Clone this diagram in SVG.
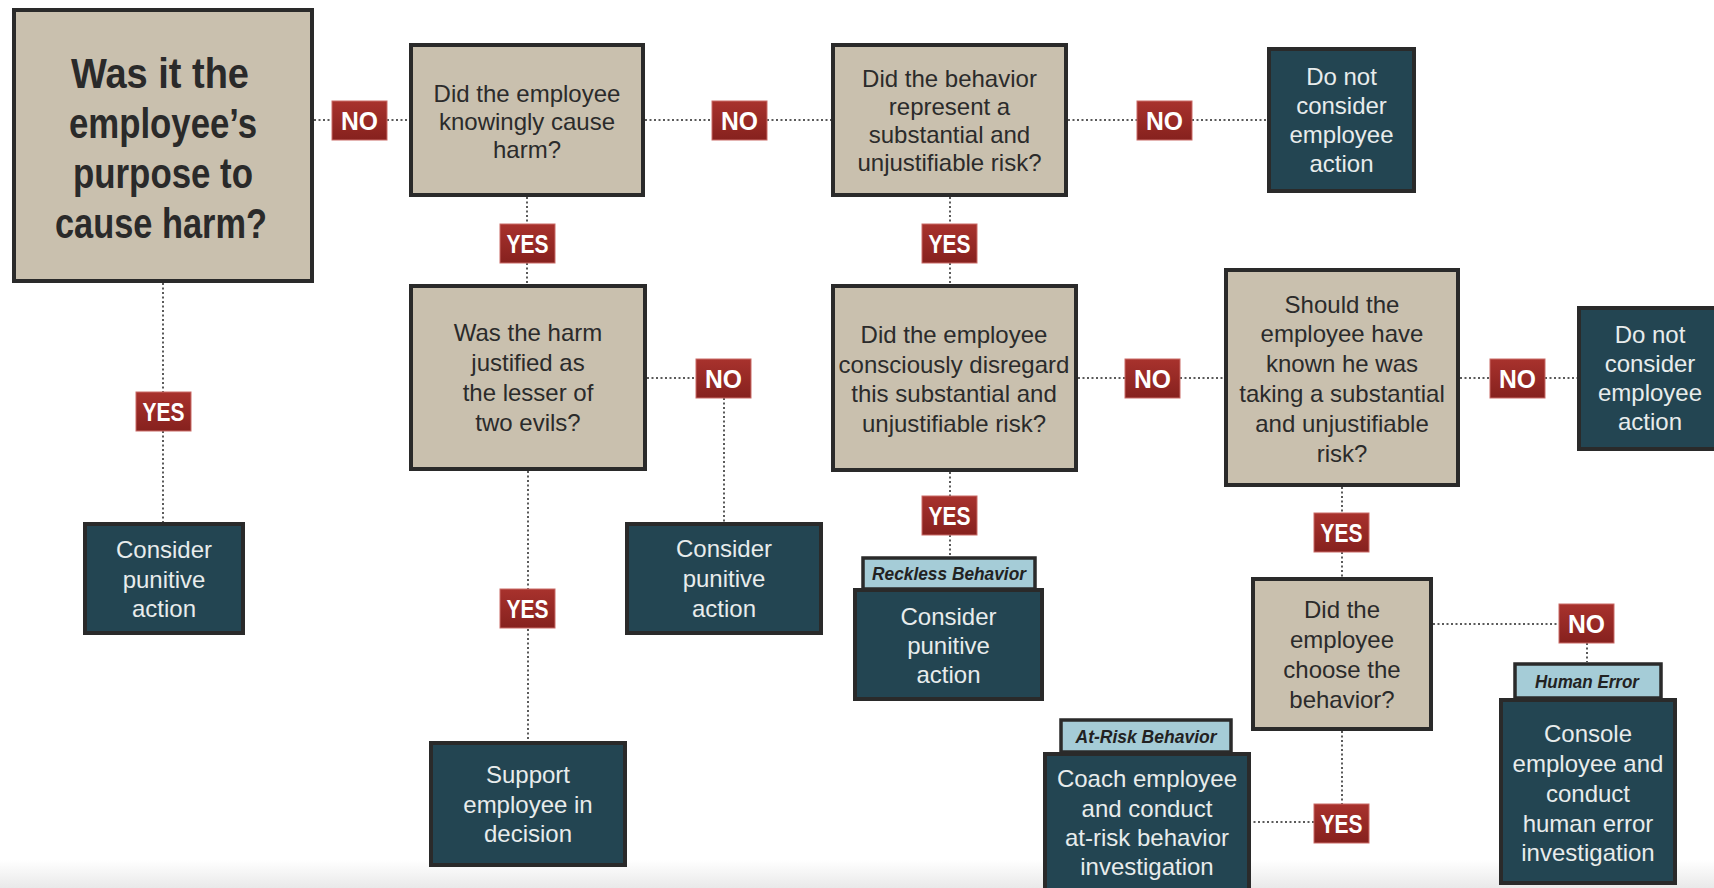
<svg xmlns="http://www.w3.org/2000/svg" width="1714" height="888" viewBox="0 0 1714 888">
<defs>
<linearGradient id="redg" x1="0" y1="0" x2="0" y2="1">
<stop offset="0" stop-color="#a8322d"/>
<stop offset="1" stop-color="#86211e"/>
</linearGradient>
<linearGradient id="floor" x1="0" y1="0" x2="0" y2="1">
<stop offset="0" stop-color="#ffffff"/>
<stop offset="1" stop-color="#e9e9e9"/>
</linearGradient>
<style>
.q{fill:#c9c0ae;stroke:#2a2a2a;stroke-width:4}
.a{fill:#234552;stroke:#2a2a2a;stroke-width:4}
.tb{fill:#a5ccd7;stroke:#2a2a2a;stroke-width:3.5}
.lb{fill:url(#redg);stroke:#c96a66;stroke-width:1}
.qt{font-family:"Liberation Sans",Arial,sans-serif;font-size:24px;fill:#2b2b2b;text-anchor:middle}
.at{font-family:"Liberation Sans",Arial,sans-serif;font-size:24px;fill:#e8ecec;text-anchor:middle}
.big{font-family:"Liberation Sans",Arial,sans-serif;font-size:43px;font-weight:bold;fill:#2a2a2a;text-anchor:middle}
.lt{font-family:"Liberation Sans",Arial,sans-serif;font-size:26px;font-weight:bold;fill:#ffffff;text-anchor:middle}
.tt{font-family:"Liberation Sans",Arial,sans-serif;font-size:19px;font-weight:bold;font-style:italic;fill:#222222;text-anchor:middle}
.c{fill:none;stroke:#5a5a5a;stroke-width:2;stroke-dasharray:2 2.5}
</style>
</defs>
<rect x="0" y="0" width="1714" height="888" fill="#ffffff"/>
<rect x="0" y="860" width="1714" height="28" fill="url(#floor)"/>

<g id="connectors">
<path class="c" d="M314 120H332M387 120H409"/>
<path class="c" d="M645 120H712M767 120H831"/>
<path class="c" d="M1068 120H1137M1192 120H1267"/>
<path class="c" d="M527 197V224M527 263V284"/>
<path class="c" d="M950 197V224M950 263V284"/>
<path class="c" d="M163 283V392M163 431V522"/>
<path class="c" d="M647 378H696M724 398V522"/>
<path class="c" d="M528 471V589M528 629V741"/>
<path class="c" d="M1078 378H1125M1180 378H1224"/>
<path class="c" d="M1460 378H1490M1545 378H1577"/>
<path class="c" d="M950 472V496M950 535V556"/>
<path class="c" d="M1342 487V513M1342 552V577"/>
<path class="c" d="M1433 624H1559M1587 643V662"/>
<path class="c" d="M1342 731V804M1314 822H1251"/>
<g id="lbl-no1"><rect class="lb" x="332" y="101" width="55" height="39"/><text class="lt" x="359.5" y="129.5" textLength="37" lengthAdjust="spacingAndGlyphs">NO</text></g>
<g id="lbl-no2"><rect class="lb" x="712" y="101" width="55" height="39"/><text class="lt" x="739.5" y="129.5" textLength="37" lengthAdjust="spacingAndGlyphs">NO</text></g>
<g id="lbl-no3"><rect class="lb" x="1137" y="101" width="55" height="39"/><text class="lt" x="1164.5" y="129.5" textLength="37" lengthAdjust="spacingAndGlyphs">NO</text></g>
<g id="lbl-yes1"><rect class="lb" x="500" y="224" width="55" height="39"/><text class="lt" x="527.5" y="252.5" textLength="42" lengthAdjust="spacingAndGlyphs">YES</text></g>
<g id="lbl-yes2"><rect class="lb" x="922" y="224" width="55" height="39"/><text class="lt" x="949.5" y="252.5" textLength="42" lengthAdjust="spacingAndGlyphs">YES</text></g>
<g id="lbl-yes0"><rect class="lb" x="136" y="392" width="55" height="39"/><text class="lt" x="163.5" y="420.5" textLength="42" lengthAdjust="spacingAndGlyphs">YES</text></g>
<g id="lbl-no4"><rect class="lb" x="696" y="359" width="55" height="39"/><text class="lt" x="723.5" y="387.5" textLength="37" lengthAdjust="spacingAndGlyphs">NO</text></g>
<g id="lbl-yes3"><rect class="lb" x="500" y="589" width="55" height="39"/><text class="lt" x="527.5" y="617.5" textLength="42" lengthAdjust="spacingAndGlyphs">YES</text></g>
<g id="lbl-no5"><rect class="lb" x="1125" y="359" width="55" height="39"/><text class="lt" x="1152.5" y="387.5" textLength="37" lengthAdjust="spacingAndGlyphs">NO</text></g>
<g id="lbl-no6"><rect class="lb" x="1490" y="359" width="55" height="39"/><text class="lt" x="1517.5" y="387.5" textLength="37" lengthAdjust="spacingAndGlyphs">NO</text></g>
<g id="lbl-yes4"><rect class="lb" x="922" y="496" width="55" height="39"/><text class="lt" x="949.5" y="524.5" textLength="42" lengthAdjust="spacingAndGlyphs">YES</text></g>
<g id="lbl-yes5"><rect class="lb" x="1314" y="513" width="55" height="39"/><text class="lt" x="1341.5" y="541.5" textLength="42" lengthAdjust="spacingAndGlyphs">YES</text></g>
<g id="lbl-no7"><rect class="lb" x="1559" y="604" width="55" height="39"/><text class="lt" x="1586.5" y="632.5" textLength="37" lengthAdjust="spacingAndGlyphs">NO</text></g>
<g id="lbl-yes6"><rect class="lb" x="1314" y="804" width="55" height="39"/><text class="lt" x="1341.5" y="832.5" textLength="42" lengthAdjust="spacingAndGlyphs">YES</text></g>
</g>

<g id="n-purpose">
<rect class="q" x="14" y="10" width="298" height="271"/>
<text class="big" x="160" y="88" textLength="178" lengthAdjust="spacingAndGlyphs">Was it the</text>
<text class="big" x="163" y="138" textLength="188" lengthAdjust="spacingAndGlyphs">employee’s</text>
<text class="big" x="163" y="188" textLength="180" lengthAdjust="spacingAndGlyphs">purpose to</text>
<text class="big" x="161" y="238" textLength="212" lengthAdjust="spacingAndGlyphs">cause harm?</text>
</g>

<g id="n-knowingly">
<rect class="q" x="411" y="45" width="232" height="150"/>
<text class="qt"><tspan x="527" y="102">Did the employee</tspan><tspan x="527" y="130">knowingly cause</tspan><tspan x="527" y="158">harm?</tspan></text>
</g>

<g id="n-substantial">
<rect class="q" x="833" y="45" width="233" height="150"/>
<text class="qt"><tspan x="949.5" y="87">Did the behavior</tspan><tspan x="949.5" y="115">represent a</tspan><tspan x="949.5" y="143">substantial and</tspan><tspan x="949.5" y="171">unjustifiable risk?</tspan></text>
</g>

<g id="n-noaction1">
<rect class="a" x="1269" y="49" width="145" height="142"/>
<text class="at"><tspan x="1341.5" y="85">Do not</tspan><tspan x="1341.5" y="114">consider</tspan><tspan x="1341.5" y="143">employee</tspan><tspan x="1341.5" y="172">action</tspan></text>
</g>

<g id="n-lesser">
<rect class="q" x="411" y="286" width="234" height="183"/>
<text class="qt"><tspan x="528" y="341">Was the harm</tspan><tspan x="528" y="371">justified as</tspan><tspan x="528" y="401">the lesser of</tspan><tspan x="528" y="431">two evils?</tspan></text>
</g>

<g id="n-punitive2">
<rect class="a" x="627" y="524" width="194" height="109"/>
<text class="at"><tspan x="724" y="557">Consider</tspan><tspan x="724" y="587">punitive</tspan><tspan x="724" y="617">action</tspan></text>
</g>

<g id="n-support">
<rect class="a" x="431" y="743" width="194" height="122"/>
<text class="at"><tspan x="528" y="783">Support</tspan><tspan x="528" y="813">employee in</tspan><tspan x="528" y="842">decision</tspan></text>
</g>

<g id="n-punitive1">
<rect class="a" x="85" y="524" width="158" height="109"/>
<text class="at"><tspan x="164" y="558">Consider</tspan><tspan x="164" y="588">punitive</tspan><tspan x="164" y="617">action</tspan></text>
</g>

<g id="n-disregard">
<rect class="q" x="833" y="286" width="243" height="184"/>
<text class="qt"><tspan x="954" y="343">Did the employee</tspan><tspan x="954" y="373">consciously disregard</tspan><tspan x="954" y="402">this substantial and</tspan><tspan x="954" y="432">unjustifiable risk?</tspan></text>
</g>

<g id="n-shouldknown">
<rect class="q" x="1226" y="270" width="232" height="215"/>
<text class="qt"><tspan x="1342" y="313">Should the</tspan><tspan x="1342" y="342">employee have</tspan><tspan x="1342" y="372">known he was</tspan><tspan x="1342" y="402">taking a substantial</tspan><tspan x="1342" y="432">and unjustifiable</tspan><tspan x="1342" y="462">risk?</tspan></text>
</g>

<g id="n-noaction2">
<rect class="a" x="1579" y="308" width="145" height="141"/>
<text class="at"><tspan x="1650" y="343">Do not</tspan><tspan x="1650" y="372">consider</tspan><tspan x="1650" y="401">employee</tspan><tspan x="1650" y="430">action</tspan></text>
</g>

<g id="n-reckless">
<rect class="tb" x="863" y="558" width="172" height="31"/>
<text class="tt" x="949" y="580" textLength="154" lengthAdjust="spacingAndGlyphs">Reckless Behavior</text>
<rect class="a" x="855" y="590" width="187" height="109"/>
<text class="at"><tspan x="948.5" y="625">Consider</tspan><tspan x="948.5" y="654">punitive</tspan><tspan x="948.5" y="683">action</tspan></text>
</g>

<g id="n-choose">
<rect class="q" x="1253" y="579" width="178" height="150"/>
<text class="qt"><tspan x="1342" y="618">Did the</tspan><tspan x="1342" y="648">employee</tspan><tspan x="1342" y="678">choose the</tspan><tspan x="1342" y="708">behavior?</tspan></text>
</g>

<g id="n-atrisk">
<rect class="tb" x="1061" y="720" width="170" height="32"/>
<text class="tt" x="1146" y="743" textLength="141" lengthAdjust="spacingAndGlyphs">At-Risk Behavior</text>
<rect class="a" x="1045" y="754" width="204" height="145"/>
<text class="at"><tspan x="1147" y="787">Coach employee</tspan><tspan x="1147" y="817">and conduct</tspan><tspan x="1147" y="846">at-risk behavior</tspan><tspan x="1147" y="875">investigation</tspan></text>
</g>

<g id="n-humanerror">
<rect class="tb" x="1515" y="664" width="146" height="34"/>
<text class="tt" x="1587" y="688" textLength="104" lengthAdjust="spacingAndGlyphs">Human Error</text>
<rect class="a" x="1501" y="700" width="174" height="183"/>
<text class="at"><tspan x="1588" y="742">Console</tspan><tspan x="1588" y="772">employee and</tspan><tspan x="1588" y="802">conduct</tspan><tspan x="1588" y="832">human error</tspan><tspan x="1588" y="861">investigation</tspan></text>
</g>
</svg>
